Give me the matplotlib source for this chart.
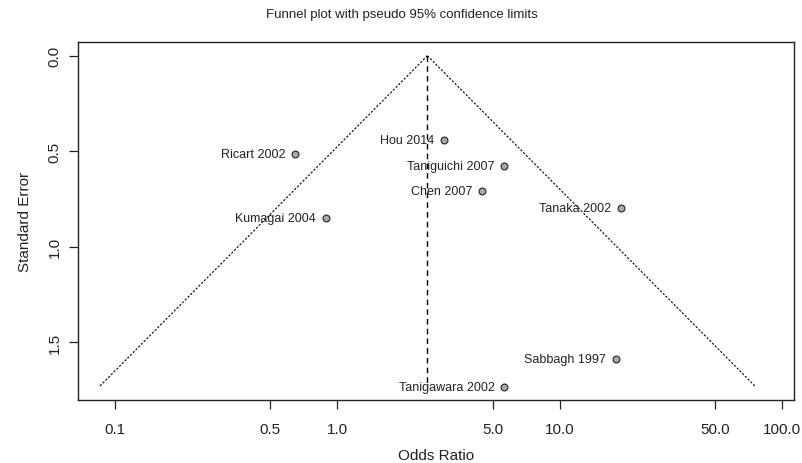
import numpy as np
import matplotlib
matplotlib.use("Agg")
import matplotlib.pyplot as plt

plt.rcParams['font.family'] = ['Liberation Sans', 'DejaVu Sans']

# study estimates
studies = ["Hou 2014", "Ricart 2002", "Taniguichi 2007", "Chen 2007",
           "Kumagai 2004", "Tanaka 2002", "Sabbagh 1997", "Tanigawara 2002"]
odds_ratio = [3.0, 0.647, 5.6, 4.46, 0.887, 18.8, 17.9, 5.64]
std_err = [0.44, 0.515, 0.576, 0.707, 0.851, 0.798, 1.588, 1.735]
pooled_or = 2.54

xticks = [0.1, 0.5, 1.0, 5.0, 10.0, 50.0, 100.0]
yticks = [0.0, 0.5, 1.0, 1.5]

fig = plt.figure(figsize=(8.03, 4.64), dpi=100)
ax = fig.add_axes([0.0968, 0.1358, 0.892, 0.772])

# funnel with pseudo 95% limits
se_max = max(std_err)
se_line = np.array([0.0, se_max])
center = np.log(pooled_or)
ax.plot(np.exp(center - 1.96 * se_line), se_line, color="black", lw=0.8, ls=(0, (2, 1.5)))
ax.plot(np.exp(center + 1.96 * se_line), se_line, color="black", lw=0.8, ls=(0, (2, 1.5)))
ax.plot([pooled_or, pooled_or], [0.0, se_max], color="black", lw=1.0, ls=(0, (4, 3)))

ax.scatter(odds_ratio, std_err, s=24, facecolor="#a8a8a8", edgecolor="#333333", lw=0.9, zorder=3)
for name, x, y in zip(studies, odds_ratio, std_err):
    ax.annotate(name, (x, y), xytext=(-7, 0), textcoords="offset points",
                ha="right", va="center", fontsize=9, color="#222222")

ax.set_xscale("log")
ax.set_xlim(0.068, 113)
ax.set_ylim(1.803, -0.073)
ax.set_xticks(xticks)
ax.set_xticklabels([f"{t:.1f}" for t in xticks])
ax.xaxis.set_minor_locator(matplotlib.ticker.NullLocator())
ax.set_yticks(yticks)
ax.set_yticklabels([f"{t:.1f}" for t in yticks], rotation=90, va="center")

ax.tick_params(direction="out", length=6.5, width=0.9, labelsize=11, colors="#222222")
ax.tick_params(axis="x", pad=9)
ax.tick_params(axis="y", pad=5)
for s in ax.spines.values():
    s.set_linewidth(1.0)
    s.set_color("#222222")

ax.set_xlabel("Odds Ratio", fontsize=11, labelpad=9, color="#222222")
ax.set_ylabel("Standard Error", fontsize=11, labelpad=11, color="#222222")
fig.text(0.5, 0.968, "Funnel plot with pseudo 95% confidence limits", ha="center",
         va="center", fontsize=9.5, color="#222222")

fig.savefig("out.png", dpi=100)
